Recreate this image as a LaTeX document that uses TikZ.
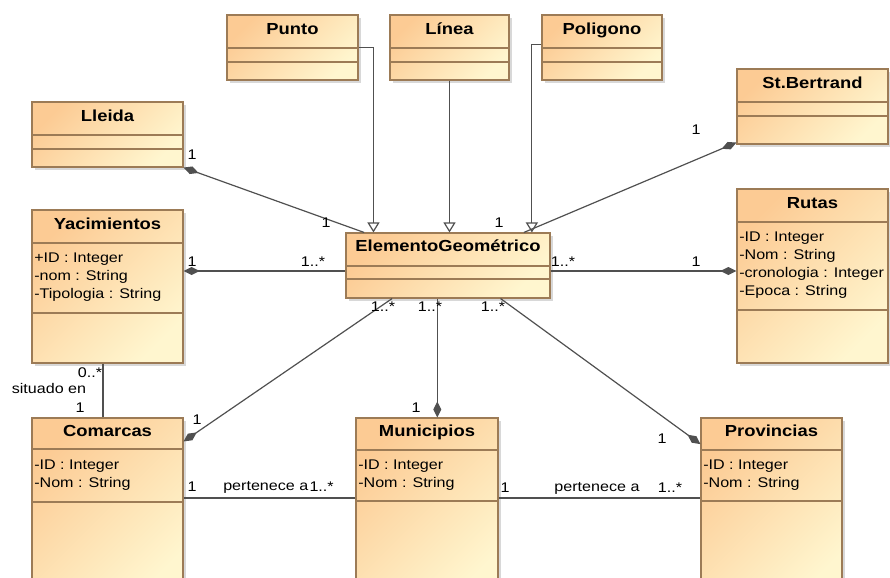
\documentclass[tikz,border=0pt]{standalone}
\usepackage{fontspec}
\newfontfamily\umlfont{Liberation Sans}[FakeStretch=1.15]
\usepackage{tikz}
\usetikzlibrary{arrows.meta,positioning,fit,calc,shadows}
\definecolor{classtop}{HTML}{FCCB94}
\definecolor{classbottom}{HTML}{FFF6CF}
\definecolor{classedge}{HTML}{9C7B56}
\definecolor{linkgray}{HTML}{505050}

\begin{document}
\begin{tikzpicture}[
    x=0.75pt, y=-0.75pt,
    class/.style={draw=classedge, line width=0.8pt, inner sep=0pt,
                  left color=classtop, right color=classbottom, shading angle=45,
                  drop shadow={shadow xshift=2pt, shadow yshift=-2pt, fill=black!30, opacity=0.5}},
    cname/.style={font=\umlfont\bfseries\fontsize{12}{13}\selectfont, inner sep=0pt,
                  text height=8.5pt, text depth=2.5pt},
    attrs/.style={font=\umlfont\fontsize{10.5}{13.5}\selectfont, align=left,
                  anchor=north west, inner sep=0pt},
    sep/.style={draw=classedge, line width=0.8pt},
    mult/.style={font=\umlfont\fontsize{10.5}{12}\selectfont, inner sep=0pt},
    link/.style={draw=linkgray, line width=0.9pt},
    owner/.style={link, {Diamond[length=12pt, width=6pt]}-},
    ownerend/.style={link, -{Diamond[length=12pt, width=6pt]}},
    isa/.style={link, -{Triangle[open, length=7.5pt, width=9pt, fill=white]}},
]
\useasboundingbox (0,0) rectangle (890,578);
\clip (0,0) rectangle (890,578);

% ── Geometry subclasses (top row) ───────────────────────────────────────
\node[class, fit={(227,15) (358,80)}] (punto) {};
\node[cname] (puntoT) at ($(punto.north)+(0,16)$) {Punto};
\draw[sep] (227,48) -- (358,48) (227,62) -- (358,62);

\node[class, fit={(390,15) (509,80)}] (linea) {};
\node[cname] (lineaT) at ($(linea.north)+(0,16)$) {Línea};
\draw[sep] (390,48) -- (509,48) (390,62) -- (509,62);

\node[class, fit={(542,15) (662,80)}] (poligono) {};
\node[cname] (poligonoT) at ($(poligono.north)+(0,16)$) {Poligono};
\draw[sep] (542,48) -- (662,48) (542,62) -- (662,62);

% ── Sites around the centre ─────────────────────────────────────────────
\node[class, fit={(32,102) (183,167)}] (lleida) {};
\node[cname] (lleidaT) at ($(lleida.north)+(0,16)$) {Lleida};
\draw[sep] (32,135) -- (183,135) (32,149) -- (183,149);

\node[class, fit={(737,69) (888,144)}] (stbert) {};
\node[cname] (stbertT) at ($(stbert.north)+(0,16)$) {St.Bertrand};
\draw[sep] (737,102) -- (888,102) (737,116) -- (888,116);

\node[class, fit={(32,210) (183,363)}] (yac) {};
\node[cname] (yacT) at ($(yac.north)+(0,16)$) {Yacimientos};
\draw[sep] (32,243) -- (183,243) (32,313) -- (183,313);
\node[attrs] (yacA) at (34,253) {+ID : Integer\\-nom : String\\-Tipologia : String};

\node[class, fit={(737,189) (888,363)}] (rutas) {};
\node[cname] (rutasT) at ($(rutas.north)+(0,16)$) {Rutas};
\draw[sep] (737,222) -- (888,222) (737,310) -- (888,310);
\node[attrs] (rutasA) at (739,232) {-ID : Integer\\-Nom : String\\-cronologia : Integer\\-Epoca : String};

% ── Central class ───────────────────────────────────────────────────────
\node[class, fit={(346,233) (550,298)}] (elem) {};
\node[cname] (elemT) at ($(elem.north)+(0,15)$) {ElementoGeométrico};
\draw[sep] (346,266) -- (550,266) (346,279) -- (550,279);

% ── Territories (bottom row, cut by the frame) ──────────────────────────
\node[class, fit={(32,418) (183,600)}] (comarcas) {};
\node[cname] (comarcasT) at ($(comarcas.north)+(0,15)$) {Comarcas};
\draw[sep] (32,449) -- (183,449) (32,502) -- (183,502);
\node[attrs] (comarcasA) at (34,460) {-ID : Integer\\-Nom : String};

\node[class, fit={(356,418) (498,600)}] (muni) {};
\node[cname] (muniT) at ($(muni.north)+(0,15)$) {Municipios};
\draw[sep] (356,450) -- (498,450) (356,501) -- (498,501);
\node[attrs] (muniA) at (358,460) {-ID : Integer\\-Nom : String};

\node[class, fit={(701,418) (842,600)}] (prov) {};
\node[cname] (provT) at ($(prov.north)+(0,15)$) {Provincias};
\draw[sep] (701,450) -- (842,450) (701,501) -- (842,501);
\node[attrs] (provA) at (703,460) {-ID : Integer\\-Nom : String};

% ── Generalisations ─────────────────────────────────────────────────────
\draw[isa] (punto.east) -| ([xshift=21pt]elem.north west);
\draw[isa] (linea.south) -- (linea.south |- elem.north);
\draw[isa] ([yshift=2pt]poligono.west) -| ([xshift=-14pt]elem.north east);

% ── Compositions ────────────────────────────────────────────────────────
\draw[owner] (lleida.south east) -- ([xshift=14pt]elem.north west);
\draw[owner] ([yshift=1.5pt]stbert.south west) -- ([xshift=-20pt]elem.north east);
\draw[owner] (yac.east |- 0,271) -- (elem.west |- 0,271);
\draw[ownerend] (elem.east |- 0,271) -- (rutas.west |- 0,271);
\draw[owner] ([yshift=-18pt]comarcas.north east) -- ([xshift=35pt]elem.south west);
\draw[ownerend] ([xshift=-8pt]elem.south) -- ([xshift=-8pt]elem.south |- muni.north);
\draw[ownerend] ([xshift=-37.5pt]elem.south east) -- ([yshift=-20pt]prov.north west);

% ── Plain associations ──────────────────────────────────────────────────
\draw[link] ([xshift=-3.4pt]yac.south) -- ([xshift=-3.4pt]yac.south |- comarcas.north);
\draw[link] (comarcas.east |- 0,498) -- (muni.west |- 0,498);
\draw[link] (muni.east |- 0,498) -- (prov.west |- 0,498);

% ── Multiplicities and role names ───────────────────────────────────────
\node[mult] (mLleida)   at (192,155) {1};
\node[mult] (mLleidaE)  at (326,223) {1};
\node[mult] (mStB)      at (696,130) {1};
\node[mult] (mStBE)     at (499,223) {1};
\node[mult] (mYac)      at (192,262) {1};
\node[mult] (mYacE)     at (313,262) {1..*};
\node[mult] (mRutasE)   at (563,262) {1..*};
\node[mult] (mRutas)    at (696,262) {1};
\node[mult] (mCom)      at (197,420) {1};
\node[mult] (mComE)     at (383,307) {1..*};
\node[mult] (mMuni)     at (416,408) {1};
\node[mult] (mMuniE)    at (430,307) {1..*};
\node[mult] (mProv)     at (662,439) {1};
\node[mult] (mProvE)    at (493,307) {1..*};
\node[mult] (mSitYac)   at (90,373)  {0..*};
\node[mult] (situado)   at (49,388)  {situado en};
\node[mult] (mSitCom)   at (80,408)  {1};
\node[mult] (mPert1L)   at (192,487) {1};
\node[mult, anchor=west] (pert1) at (223,487) {pertenece a};
\node[mult, right=0.5pt of pert1] (mPert1R) {1..*};
\node[mult] (mPert2L)   at (505,488) {1};
\node[mult] (pert2)     at (597,488) {pertenece a};
\node[mult] (mPert2R)   at (670,488) {1..*};

\end{tikzpicture}
\end{document}
